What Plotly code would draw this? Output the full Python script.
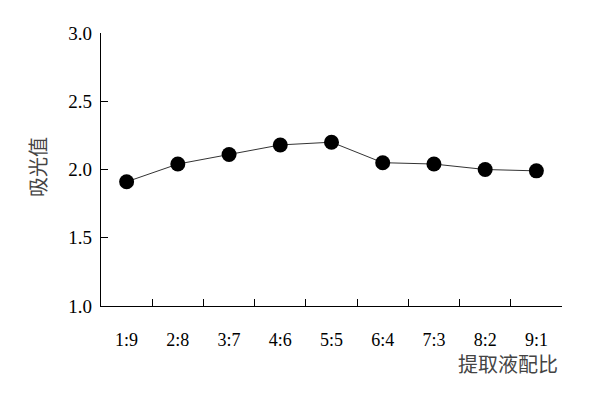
import plotly.graph_objects as go

categories = ["1:9", "2:8", "3:7", "4:6", "5:5", "6:4", "7:3", "8:2", "9:1"]
absorbance = [1.91, 2.04, 2.11, 2.18, 2.20, 2.05, 2.04, 2.00, 1.99]
y_ticks = [1.0, 1.5, 2.0, 2.5, 3.0]
y_tick_text = ["1.0", "1.5", "2.0", "2.5", "3.0"]

serif = "Liberation Serif, Times New Roman, serif"
cjk = "Noto Sans CJK SC"

# page body has an 8px default margin; compensate so the plot lands where the reference has it
off = 8
L, R, T, B = 101 - off, 38 + off, 33 - off, 99 + off

fig = go.Figure()
fig.add_trace(go.Scatter(
    x=categories, y=absorbance, mode="lines+markers",
    line=dict(color="#333333", width=1),
    marker=dict(color="black", size=15, symbol="circle"),
    showlegend=False,
))

fig.update_layout(
    width=600, height=405,
    margin=dict(l=L, r=R, t=T, b=B),
    plot_bgcolor="white", paper_bgcolor="white",
    xaxis=dict(
        type="category", range=[-0.5, 8.5],
        showline=True, linecolor="black", linewidth=1.3,
        ticks="inside", ticklen=7, tickcolor="black", tickwidth=1,
        tickson="boundaries",
        showgrid=False, zeroline=False,
        tickfont=dict(family=serif, size=18, color="black"),
        ticklabelstandoff=17,
        automargin=False,
    ),
    yaxis=dict(
        range=[1.0, 3.0], tickvals=y_ticks, ticktext=y_tick_text,
        showline=True, linecolor="black", linewidth=1.3,
        ticks="inside", ticklen=7, tickcolor="black", tickwidth=1,
        showgrid=False, zeroline=False,
        tickfont=dict(family=serif, size=19, color="black"),
        ticklabelstandoff=4,
        automargin=False,
    ),
)

pw = 600 - L - R
ph = 405 - T - B


def px_to_paper(px, py):
    # px, py are screen pixels in the reference image
    fx = px - off
    fy = py - off
    return (fx - L) / pw, (405 - B - fy) / ph


ax, ay = px_to_paper(37, 167)
bx, by = px_to_paper(508, 363)
fig.add_annotation(text="吸光值", x=ax, y=ay, xref="paper", yref="paper",
                   showarrow=False, textangle=-90, xanchor="center", yanchor="middle",
                   font=dict(family=cjk, size=20, color="#444444"))
fig.add_annotation(text="提取液配比", x=bx, y=by, xref="paper", yref="paper",
                   showarrow=False, xanchor="center", yanchor="middle",
                   font=dict(family=cjk, size=20, color="#444444"))

fig.write_html("out.html")
